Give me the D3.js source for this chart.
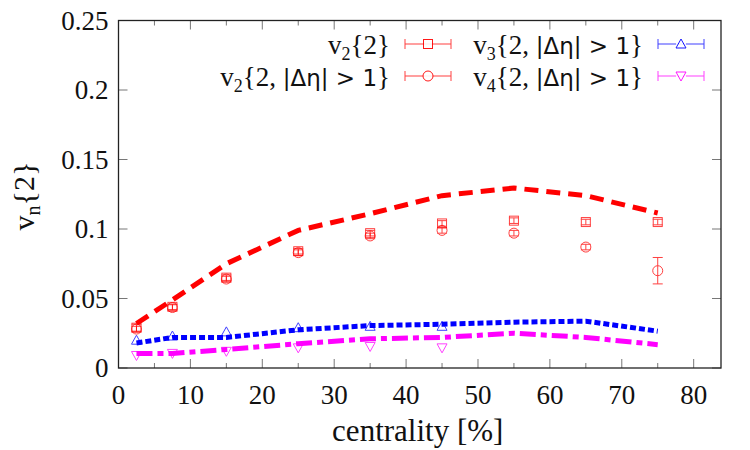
<!DOCTYPE html>
<html>
<head>
<meta charset="utf-8">
<script src="https://cdn.jsdelivr.net/npm/d3@7"></script>
<style>
  body { margin: 0; background: #fff; }
</style>
</head>
<body>
<div id="chart"></div>
<script>
// centrality bins
let centrality = [2.5, 7.5, 15, 25, 35, 45, 55, 65, 75];
let centralityV34 = [2.5, 7.5, 15, 25, 35, 45];

// data points
let v22 = [0.029, 0.044, 0.065, 0.084, 0.097, 0.104, 0.106, 0.105, 0.105];
let v22Err = [0.0025, 0.002, 0.002, 0.002, 0.002, 0.002, 0.002, 0.002, 0.002];
let v22Eta = [0.028, 0.0435, 0.064, 0.083, 0.095, 0.099, 0.097, 0.087, 0.070];
let v22EtaErr = [0.002, 0.002, 0.002, 0.002, 0.002, 0.002, 0.002, 0.002, 0.0095];
let v32Eta = [0.020, 0.023, 0.026, 0.029, 0.030, 0.030];
let v42Eta = [0.009, 0.0105, 0.012, 0.0145, 0.0155, 0.0145];

// model curves
let modelV2 = [0.032, 0.049, 0.075, 0.099, 0.111, 0.124, 0.1295, 0.124, 0.1115];
let modelV3 = [0.018, 0.022, 0.022, 0.0275, 0.0305, 0.0315, 0.033, 0.0337, 0.0265];
let modelV4 = [0.0105, 0.0105, 0.0133, 0.0175, 0.021, 0.022, 0.025, 0.022, 0.0168];

let xTicks = [0, 10, 20, 30, 40, 50, 60, 70, 80];
let xMinorTicks = [5, 15, 25, 35, 45, 55, 65, 75];
let yTicks = [0, 0.05, 0.1, 0.15, 0.2, 0.25];

let serif = "Liberation Serif";

let svgWidth = 750;
let svgHeight = 450;
let margin = { top: 20.5, right: 29, bottom: 82, left: 118.5 };
let width = svgWidth - margin.left - margin.right;
let height = svgHeight - margin.top - margin.bottom;

let svg = d3.select("#chart")
  .append("svg")
  .attr("width", svgWidth)
  .attr("height", svgHeight)
  .attr("font-family", serif);

let chartGroup = svg.append("g")
  .attr("transform", `translate(${margin.left}, ${margin.top})`);

let xScale = d3.scaleLinear().domain([0, 83.8]).range([0, width]);
let yScale = d3.scaleLinear().domain([0, 0.25]).range([height, 0]);

// ticks (inward, on all four sides)
let tickColor = "#777";
xTicks.concat(xMinorTicks).forEach(t => {
  let len = xMinorTicks.includes(t) ? 5 : 9;
  chartGroup.append("line").attr("x1", xScale(t)).attr("x2", xScale(t))
    .attr("y1", height).attr("y2", height - len).attr("stroke", tickColor);
  chartGroup.append("line").attr("x1", xScale(t)).attr("x2", xScale(t))
    .attr("y1", 0).attr("y2", len).attr("stroke", tickColor);
});
yTicks.forEach(t => {
  chartGroup.append("line").attr("x1", 0).attr("x2", 9)
    .attr("y1", yScale(t)).attr("y2", yScale(t)).attr("stroke", tickColor);
  chartGroup.append("line").attr("x1", width).attr("x2", width - 9)
    .attr("y1", yScale(t)).attr("y2", yScale(t)).attr("stroke", tickColor);
});

// tick labels
chartGroup.selectAll(".xlab").data(xTicks).enter().append("text")
  .attr("x", d => xScale(d))
  .attr("y", height + 36)
  .attr("text-anchor", "middle")
  .attr("font-family", serif)
  .attr("font-size", 27)
  .attr("fill", "#111")
  .text(d => d);
chartGroup.selectAll(".ylab").data(yTicks).enter().append("text")
  .attr("x", -10)
  .attr("y", d => yScale(d) + 9)
  .attr("text-anchor", "end")
  .attr("font-family", serif)
  .attr("font-size", 27)
  .attr("fill", "#111")
  .text(d => d);

// frame
chartGroup.append("rect")
  .attr("width", width).attr("height", height)
  .attr("fill", "none").attr("stroke", "#222").attr("stroke-width", 1.3);

// axis titles
svg.append("text")
  .attr("x", margin.left + width / 2 - 2)
  .attr("y", 441)
  .attr("text-anchor", "middle")
  .attr("font-family", serif)
  .attr("font-size", 31)
  .attr("fill", "#111")
  .text("centrality [%]");

let yTitle = svg.append("text")
  .attr("transform", "translate(34, 196) rotate(-90)")
  .attr("text-anchor", "middle")
  .attr("font-family", serif)
  .attr("font-size", 30)
  .attr("fill", "#111");
yTitle.append("tspan").text("v");
yTitle.append("tspan").attr("font-size", 20).attr("dy", 6).text("n");
yTitle.append("tspan").attr("dy", -6).text("{2}");

// model curves
let lineGen = d3.line()
  .x(d => xScale(d[0]))
  .y(d => yScale(d[1]));

let curves = [
  { vals: modelV2, color: "#ff0000", dash: "14,8" },
  { vals: modelV3, color: "#0000ff", dash: "6,3" },
  { vals: modelV4, color: "#ff00ff", dash: "16,5,6,5" }
];
curves.forEach(c => {
  chartGroup.append("path")
    .datum(d3.zip(centrality, c.vals))
    .attr("d", lineGen)
    .attr("fill", "none")
    .attr("stroke", c.color)
    .attr("stroke-width", 5)
    .attr("stroke-dasharray", c.dash);
});

// marker shapes
function drawMarker(g, shape, cx, cy, color) {
  if (shape === "square") {
    g.append("rect").attr("x", cx - 4.5).attr("y", cy - 4.5)
      .attr("width", 9).attr("height", 9)
      .attr("fill", "none").attr("stroke", color);
  } else if (shape === "circle") {
    g.append("circle").attr("cx", cx).attr("cy", cy).attr("r", 5)
      .attr("fill", "none").attr("stroke", color);
  } else if (shape === "triangle") {
    g.append("path")
      .attr("d", `M${cx},${cy - 5}L${cx + 5},${cy + 4}L${cx - 5},${cy + 4}Z`)
      .attr("fill", "none").attr("stroke", color);
  } else {
    g.append("path")
      .attr("d", `M${cx},${cy + 5}L${cx + 5},${cy - 4}L${cx - 5},${cy - 4}Z`)
      .attr("fill", "none").attr("stroke", color);
  }
}

// data points with error bars
function drawSeries(xs, ys, errs, shape, color) {
  let g = chartGroup.append("g").attr("opacity", 0.75);
  xs.forEach((x, i) => {
    let cx = xScale(x);
    let cy = yScale(ys[i]);
    if (errs) {
      let y1 = yScale(ys[i] + errs[i]);
      let y2 = yScale(ys[i] - errs[i]);
      g.append("line").attr("x1", cx).attr("x2", cx).attr("y1", y1).attr("y2", y2).attr("stroke", color);
      [y1, y2].forEach(yy => {
        g.append("line").attr("x1", cx - 5).attr("x2", cx + 5).attr("y1", yy).attr("y2", yy).attr("stroke", color);
      });
    }
    drawMarker(g, shape, cx, cy, color);
  });
}

drawSeries(centrality, v22, v22Err, "square", "#ff0000");
drawSeries(centrality, v22Eta, v22EtaErr, "circle", "#ff0000");
drawSeries(centralityV34, v32Eta, null, "triangle", "#0000ff");
drawSeries(centralityV34, v42Eta, null, "itriangle", "#ff00ff");

// legend
let legendItems = [
  { main: "v", sub: "2", rest: "{2}", eta: false, shape: "square", color: "#ff0000", x: 390, y: 54 },
  { main: "v", sub: "2", rest: "{2, ", eta: true, shape: "circle", color: "#ff0000", x: 390, y: 86 },
  { main: "v", sub: "3", rest: "{2, ", eta: true, shape: "triangle", color: "#0000ff", x: 643, y: 54 },
  { main: "v", sub: "4", rest: "{2, ", eta: true, shape: "itriangle", color: "#ff00ff", x: 643, y: 86 }
];
let legend = svg.append("g");
legendItems.forEach(item => {
  let t = legend.append("text")
    .attr("x", item.x).attr("y", item.y)
    .attr("text-anchor", "end")
    .attr("font-family", serif)
    .attr("font-size", 27)
    .attr("fill", "#111");
  t.append("tspan").text(item.main);
  t.append("tspan").attr("font-size", 18).attr("dy", 6).text(item.sub);
  t.append("tspan").attr("dy", -6).text(item.rest);
  if (item.eta) {
    t.append("tspan").attr("font-family", "DejaVu Sans").attr("font-size", 23).text("|Δη| > 1");
    t.append("tspan").text("}");
  }
  let lx1 = item.x + 15, lx2 = item.x + 61, ly = item.y - 10;
  let g = legend.append("g").attr("opacity", 0.75);
  g.append("line").attr("x1", lx1).attr("x2", lx2).attr("y1", ly).attr("y2", ly).attr("stroke", item.color);
  [lx1, lx2].forEach(xx => {
    g.append("line").attr("x1", xx).attr("x2", xx).attr("y1", ly - 5).attr("y2", ly + 5).attr("stroke", item.color);
  });
  let mg = legend.append("g").attr("opacity", 0.9);
  mg.append("rect").attr("x", (lx1 + lx2) / 2 - 5).attr("y", ly - 5).attr("width", 10).attr("height", 10).attr("fill", "#fff");
  drawMarker(mg, item.shape, (lx1 + lx2) / 2, ly, item.color);
});
</script>
</body>
</html>
